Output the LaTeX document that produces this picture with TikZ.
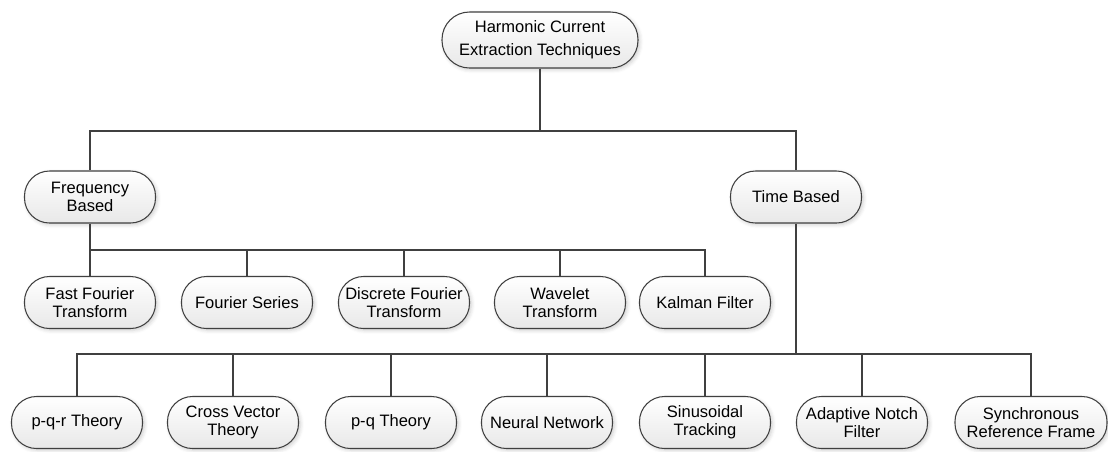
\documentclass[tikz,border=0pt]{standalone}
\usepackage{fontspec}
\setmainfont{Liberation Sans}
\usepackage{tikz}
\usetikzlibrary{positioning, shadows.blur, calc}
\definecolor{edgegray}{RGB}{64, 64, 64}

\begin{document}
\begin{tikzpicture}[
    pill/.style={rectangle, draw=edgegray, line width=0.6pt, top color=white, bottom color=gray!18, rounded corners=0.5cm, minimum width=2.62cm, minimum height=1.04cm, inner sep=1pt, align=center, font=\fontsize{9.4}{10.4}\selectfont, blur shadow={shadow xshift=1pt, shadow yshift=-1pt, shadow opacity=20, shadow blur steps=4}},
    link/.style={draw=edgegray, line width=0.6pt}
  ]
    \useasboundingbox (0,0) rectangle (22.16,-9.02);
    % top level
    \node[pill, minimum width=3.92cm, minimum height=1.12cm, rounded corners=0.55cm] (root) at (10.8,-0.8) {Harmonic Current\\[2.6pt]Extraction Techniques};
    \node[pill] (freq) at (1.8,-3.94) {Frequency\\Based};
    \node[pill] (time) at (15.92,-3.94) {Time Based};

    % frequency based methods
    \node[pill] (fft) at (1.8,-6.05) {Fast Fourier\\Transform};
    \node[pill] (fs) at (4.94,-6.05) {Fourier Series};
    \node[pill] (dft) at (8.08,-6.05) {Discrete Fourier\\Transform};
    \node[pill] (wt) at (11.2,-6.05) {Wavelet\\Transform};
    \node[pill] (kf) at (14.1,-6.05) {Kalman Filter};

    % time based methods
    \node[pill] (pqr) at (1.54,-8.45) {p-q-r Theory};
    \node[pill] (cvt) at (4.66,-8.45) {Cross Vector\\Theory};
    \node[pill] (pq) at (7.82,-8.45) {p-q Theory};
    \node[pill] (nn) at (10.94,-8.45) {Neural Network};
    \node[pill] (st) at (14.1,-8.45) {Sinusoidal\\Tracking};
    \node[pill] (anf) at (17.24,-8.45) {Adaptive Notch\\Filter};
    \node[pill, minimum width=3.04cm] (srf) at (20.62,-8.45) {Synchronous\\Reference Frame};

    % branch points
    \coordinate (topbar) at (10.8,-2.62);
    \coordinate (freqbar) at (1.8,-5.0);
    \coordinate (timebar) at (15.92,-7.08);

    \draw[link] (root) -- (topbar) -| (freq);
    \draw[link] (topbar) -| (time);
    \draw[link] (freq) -- (fft);
    \foreach \n in {fs, dft, wt, kf}
      \draw[link] (freqbar) -| (\n);
    \draw[link] (time) -- (timebar);
    \foreach \n in {pqr, cvt, pq, nn, st, anf, srf}
      \draw[link] (timebar) -| (\n);
  \end{tikzpicture}
\end{document}
